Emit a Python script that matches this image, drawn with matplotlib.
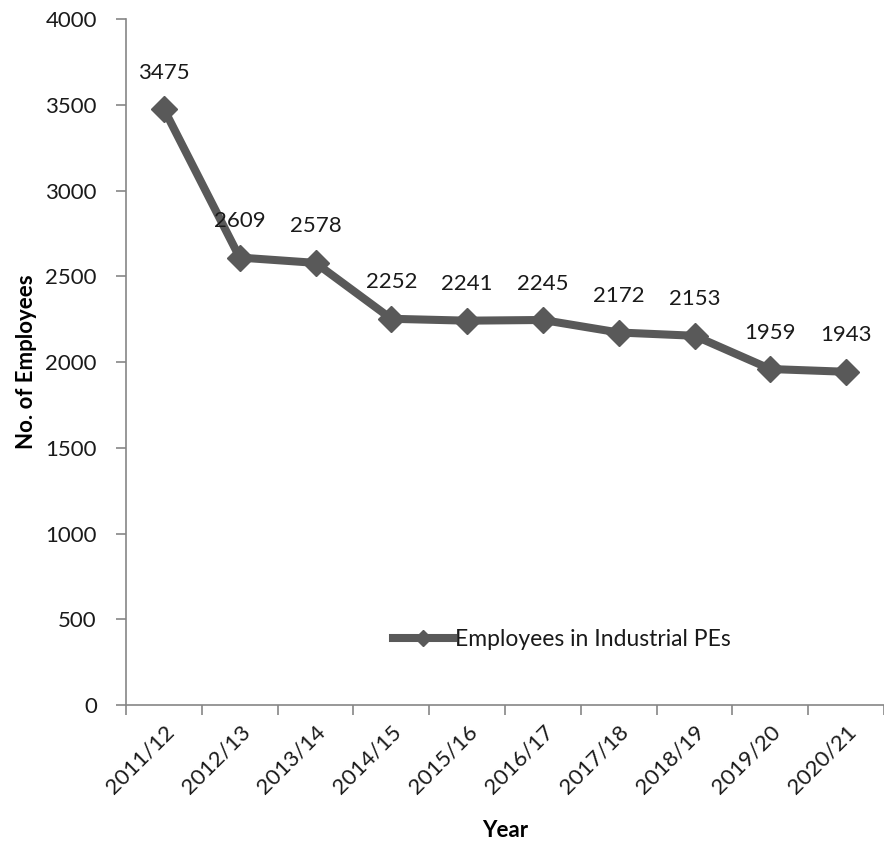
import matplotlib
matplotlib.use("Agg")
import matplotlib.pyplot as plt
from matplotlib.lines import Line2D

years = ["2011/12", "2012/13", "2013/14", "2014/15", "2015/16",
         "2016/17", "2017/18", "2018/19", "2019/20", "2020/21"]
employees = [3475, 2609, 2578, 2252, 2241, 2245, 2172, 2153, 1959, 1943]
series_name = "Employees in Industrial PEs"
y_ticks = [0, 500, 1000, 1500, 2000, 2500, 3000, 3500, 4000]

plt.rcParams['font.family'] = ['Lato', 'DejaVu Sans']
FS = 16

fig = plt.figure(figsize=(8.84, 8.46), dpi=100)
ax = fig.add_axes([126 / 884, 141 / 846, 1 - 126 / 884, (705 - 19) / 846])

line_color = "#595959"
axis_color = "#868686"
text_color = "#1a1a1a"
x = list(range(len(years)))
ax.plot(x, employees, color=line_color, linewidth=5.8, marker="D",
        markersize=13, solid_joinstyle="miter", zorder=3)

for xi, v in zip(x, employees):
    ax.annotate(str(v), (xi, v), xytext=(0, 19), textcoords="offset points",
                ha="center", va="bottom", fontsize=FS, color=text_color)

ax.set_xlim(-0.5, 9.4)
ax.set_ylim(0, 4000)
ax.set_yticks(y_ticks)
ax.set_yticklabels([str(t) for t in y_ticks], fontsize=FS, color=text_color)
ax.set_xticks([i - 0.5 for i in range(len(years) + 1)])
ax.set_xticklabels([])
ax.set_xticks(x, minor=True)
ax.set_xticklabels(years, minor=True, rotation=45, ha="right",
                   rotation_mode="anchor", fontsize=FS, color=text_color)
ax.tick_params(axis="x", which="minor", length=0, pad=12)
ax.tick_params(axis="x", which="major", length=7, color=axis_color, width=1.2)
ax.tick_params(axis="y", length=7, color=axis_color, width=1.2, pad=14)

for side in ("top", "right"):
    ax.spines[side].set_visible(False)
for side in ("left", "bottom"):
    ax.spines[side].set_color(axis_color)
    ax.spines[side].set_linewidth(1.2)

ax.set_ylabel("No. of Employees", fontsize=FS, fontweight="bold", labelpad=6)
ax.set_xlabel("Year", fontsize=FS, fontweight="bold", labelpad=16)

handle = Line2D([], [], color=line_color, linewidth=5.8, marker="D", markersize=8)
ax.legend([handle], [series_name], loc="center left", frameon=False,
          bbox_to_anchor=(0.325, 0.095), fontsize=16.5, handlelength=2.6,
          handletextpad=0.1, labelcolor=text_color)

fig.savefig("out.png", dpi=100, facecolor="white")
